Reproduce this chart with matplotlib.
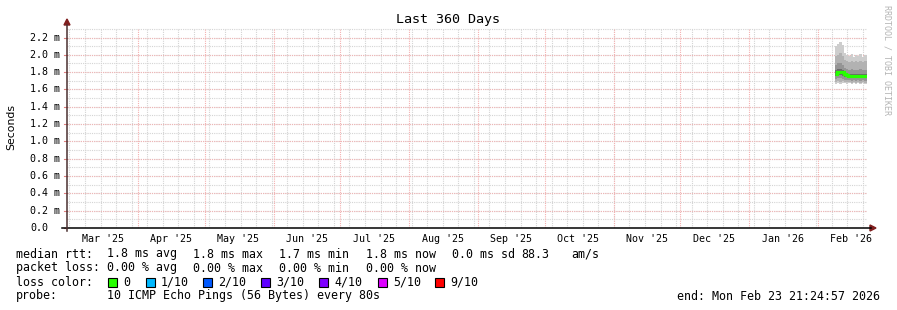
import matplotlib
matplotlib.use("Agg")
import matplotlib.pyplot as plt
import matplotlib.dates as mdates
import matplotlib.transforms as mtransforms
import numpy as np
import pandas as pd
from datetime import datetime, timedelta

# chart data (values in ms), one value per day of measurement
end_time = datetime(2026, 2, 23, 21, 24, 57)
span_days = 360
first_sample = datetime(2026, 2, 9, 12, 0)

median = [1.78, 1.80, 1.805, 1.80, 1.775, 1.77, 1.76, 1.755, 1.755, 1.755, 1.75, 1.755, 1.755, 1.755]
# smoke bands, outermost first: (low, high) pairs of sorted pings
band1_lo = [1.66, 1.67, 1.66, 1.67, 1.67, 1.66, 1.67, 1.66, 1.67, 1.66, 1.67, 1.66, 1.67, 1.66]
band1_hi = [2.10, 2.12, 2.15, 2.11, 2.02, 2.00, 1.99, 2.01, 1.98, 2.00, 1.99, 2.01, 1.98, 2.00]
band2_lo = [1.69, 1.70, 1.69, 1.70, 1.69, 1.69, 1.69, 1.68, 1.69, 1.68, 1.69, 1.68, 1.69, 1.68]
band2_hi = [1.99, 2.00, 2.02, 1.99, 1.94, 1.93, 1.92, 1.93, 1.92, 1.93, 1.92, 1.93, 1.92, 1.93]
band3_lo = [1.72, 1.73, 1.73, 1.72, 1.71, 1.71, 1.71, 1.70, 1.71, 1.70, 1.71, 1.70, 1.71, 1.70]
band3_hi = [1.88, 1.90, 1.90, 1.88, 1.85, 1.84, 1.83, 1.84, 1.83, 1.83, 1.83, 1.84, 1.83, 1.83]
band4_lo = [1.75, 1.77, 1.77, 1.76, 1.74, 1.74, 1.73, 1.73, 1.73, 1.73, 1.73, 1.73, 1.73, 1.73]
band4_hi = [1.82, 1.84, 1.84, 1.83, 1.80, 1.79, 1.78, 1.78, 1.78, 1.78, 1.78, 1.78, 1.78, 1.78]

month_labels = ["Mar '25", "Apr '25", "May '25", "Jun '25", "Jul '25", "Aug '25",
                "Sep '25", "Oct '25", "Nov '25", "Dec '25", "Jan '26", "Feb '26"]
y_ticks = [0.0, 0.2, 0.4, 0.6, 0.8, 1.0, 1.2, 1.4, 1.6, 1.8, 2.0, 2.2]
y_top = 2.31

loss_labels = ["0", "1/10", "2/10", "3/10", "4/10", "5/10", "9/10"]
loss_colors = ["#26ff00", "#00b8ff", "#0059ff", "#5e00ff", "#7e00ff", "#dd00ff", "#ff0000"]

rtt_items = ["1.8 ms avg", "1.8 ms max", "1.7 ms min", "1.8 ms now", "0.0 ms sd", "88.3", "am/s"]
loss_items = ["0.00 % avg", "0.00 % max", "0.00 % min", "0.00 % now"]
probe_text = "10 ICMP Echo Pings (56 Bytes) every 80s"

W, H = 897, 310
MONO = "DejaVu Sans Mono"
plt.rcParams["font.family"] = MONO

fig = plt.figure(figsize=(W / 100, H / 100), dpi=100, facecolor="white")
ax = fig.add_axes([67 / W, 82 / H, 800 / W, 200 / H])
ax.set_facecolor("white")

start_time = end_time - timedelta(days=span_days)
ax.set_xlim(mdates.date2num(start_time), mdates.date2num(end_time))
ax.set_ylim(0, y_top)
for s in ax.spines.values():
    s.set_visible(False)

grid_kw = dict(lw=0.8, ls=(0, (1, 1)), zorder=1)
# minor grid: weeks / 0.1
for d in pd.date_range(start_time, end_time, freq="W-SUN"):
    ax.axvline(mdates.date2num(d.normalize()), color="#d4d4d4", **grid_kw)
for v in np.arange(0.1, y_top, 0.1):
    ax.axhline(v, color="#d4d4d4", **grid_kw)
# major grid: months / 0.2
months = pd.date_range(start_time, end_time + timedelta(days=31), freq="MS")
for d in months[1:]:
    if d < pd.Timestamp(end_time):
        ax.axvline(mdates.date2num(d), color="#f5b0b0", **grid_kw)
for v in y_ticks[1:]:
    ax.axhline(v, color="#f0b4b4", **grid_kw)

# smoke + median
edges = [mdates.date2num(first_sample + timedelta(days=i)) for i in range(len(median))]
edges.append(mdates.date2num(end_time))
bands = [(band1_lo, band1_hi, "#cdcdcd"), (band2_lo, band2_hi, "#b2b2b2"),
         (band3_lo, band3_hi, "#959595"), (band4_lo, band4_hi, "#6a6a6a")]
for lo, hi, c in bands:
    ax.stairs(hi, edges, baseline=lo, fill=True, color=c, lw=0, zorder=3)
ax.stairs(median, edges, baseline=None, color=loss_colors[0], lw=2.3, zorder=4)

# month labels near the middle of each month
mid = [months[i] + timedelta(days=15) for i in range(len(month_labels))]
ax.set_xticks([mdates.date2num(m) for m in mid])
ax.set_xticklabels(month_labels, fontsize=7.2)
ax.tick_params(axis="x", length=0, pad=4)
ax.set_yticks([])

ytr = mtransforms.blended_transform_factory(fig.transFigure, ax.transData)
for v in y_ticks:
    lab = "0.0" if v == 0 else f"{v:.1f} m"
    ax.text(30 / W, v, lab, transform=ytr, fontsize=7.2, ha="left", va="center")
    ax.plot([64 / W, 67 / W], [v, v], transform=ytr, color="#e08080", lw=0.8, clip_on=False)

# axes lines with arrows
px = lambda x, y: (x / W, 1 - y / H)
fig.add_artist(plt.Line2D([62 / W, 871 / W], [px(0, 228)[1]] * 2, color="black", lw=1.1))
fig.add_artist(plt.Line2D([67 / W] * 2, [px(0, 231)[1], px(0, 25)[1]], color="#4a3030", lw=1.1))
fig.add_artist(plt.Polygon([px(870, 225), px(876, 228), px(870, 231)], closed=True,
                           color="#801f1f", transform=fig.transFigure))
fig.add_artist(plt.Polygon([px(64, 25), px(67, 19), px(70, 25)], closed=True,
                           color="#801f1f", transform=fig.transFigure))

# title, y label, watermark
fig.text(*px(448, 19), "Last 360 Days", fontsize=9.6, ha="center", va="center")
fig.text(*px(11, 127), "Seconds", fontsize=7.8, rotation=90, ha="center", va="center",
         family="DejaVu Sans")
fig.text(*px(887, 60), "RRDTOOL / TOBI OETIKER", fontsize=6.0, rotation=270,
         ha="center", va="center", color="#b4b4b4")

# legend
fs = 8.4
fig.text(*px(16, 254), "median rtt:", fontsize=fs, va="center")
for x, t in zip([107, 193, 279, 366, 452, 521, 571], rtt_items):
    fig.text(*px(x, 254), t, fontsize=fs, va="center")
fig.text(*px(16, 268), "packet loss:", fontsize=fs, va="center")
for x, t in zip([107, 193, 279, 366], loss_items):
    fig.text(*px(x, 268), t, fontsize=fs, va="center")
fig.text(*px(16, 282), "loss color:", fontsize=fs, va="center")
for x, t, c in zip([108, 146, 203, 261, 319, 378, 435], loss_labels, loss_colors):
    fig.add_artist(plt.Rectangle(px(x, 287), 9 / W, 9 / H, facecolor=c, edgecolor="black",
                                 lw=0.8, transform=fig.transFigure))
    fig.text(*px(x + 15, 282), t, fontsize=fs, va="center")
fig.text(*px(16, 296), "probe:", fontsize=fs, va="center")
fig.text(*px(107, 296), probe_text, fontsize=fs, va="center")
fig.text(*px(880, 296), "end: Mon Feb 23 21:24:57 2026", fontsize=fs, va="center", ha="right")

fig.savefig("out.png", dpi=100, facecolor="white")
